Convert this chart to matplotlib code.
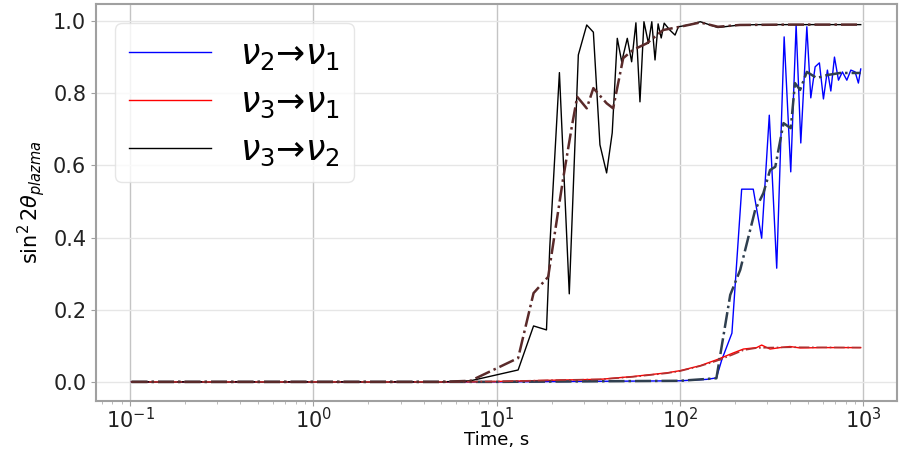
import numpy as np
import matplotlib.pyplot as plt

# nu3 -> nu2 (raw and smoothed)
t32 = [0.102, 1, 5, 7.2, 13.1, 15.9, 18.7, 19.5, 22, 24.9, 27.9, 31, 33.7, 36.6, 39.8,
       42.7, 45.5, 48.1, 51.6, 54.5, 57.5, 60.5, 63.6, 67.3, 70.2, 73.1, 76, 79, 82,
       88, 94, 98, 114, 129, 161, 212, 272, 400, 600, 968]
y32 = [0, 0, 0, 0.003, 0.033, 0.155, 0.144, 0.375, 0.857, 0.244, 0.906, 0.989, 0.969,
       0.657, 0.579, 0.69, 0.952, 0.887, 0.952, 0.887, 0.995, 0.776, 0.998, 0.938,
       0.998, 0.892, 0.992, 0.953, 0.994, 0.975, 0.961, 0.984, 0.99, 0.998, 0.982,
       0.989, 0.99, 0.99, 0.99, 0.99]
t32s = [0.102, 1, 5, 7.2, 13.1, 15.9, 19.1, 23, 25.7, 27.5, 31, 33.7, 39.8, 43.2, 49,
        55.5, 65.9, 80.9, 100, 129, 161, 212, 400, 968]
y32s = [0, 0, 0, 0.003, 0.066, 0.246, 0.291, 0.56, 0.707, 0.79, 0.758, 0.814, 0.772,
        0.758, 0.897, 0.92, 0.938, 0.975, 0.984, 0.996, 0.984, 0.989, 0.99, 0.99]

# nu2 -> nu1
t21 = [0.102, 10, 50, 100, 140, 158, 169, 192, 217, 251, 279, 307, 337, 370, 402, 430,
       456, 492, 517, 546, 576, 606, 637, 665, 696, 732, 769, 813, 855, 902, 940, 968]
y21 = [0, 0, 0.002, 0.003, 0.007, 0.011, 0.061, 0.135, 0.534, 0.534, 0.398, 0.739,
       0.315, 0.956, 0.582, 0.989, 0.662, 0.984, 0.787, 0.873, 0.884, 0.784, 0.864,
       0.806, 0.9, 0.836, 0.859, 0.836, 0.864, 0.859, 0.828, 0.867]
t21s = [0.102, 10, 100, 158, 188, 213, 257, 285, 310, 331, 367, 402, 424, 452, 492,
        557, 632, 747, 968]
y21s = [0, 0, 0.003, 0.01, 0.241, 0.31, 0.476, 0.523, 0.587, 0.596, 0.717, 0.703,
        0.828, 0.809, 0.859, 0.842, 0.85, 0.856, 0.856]

# nu3 -> nu1
t31 = [0.102, 5, 10, 22, 36.6, 55.5, 84.7, 100, 129, 158, 195, 222, 262, 279, 310,
       352, 398, 452, 600, 968]
y31 = [0, 0, 0.001, 0.005, 0.007, 0.015, 0.025, 0.031, 0.045, 0.061, 0.08, 0.091,
       0.095, 0.102, 0.091, 0.095, 0.098, 0.094, 0.095, 0.095]
t31s = [0.102, 5, 10, 22, 36.6, 55.5, 84.7, 100, 129, 158, 195, 222, 262, 310, 400, 968]
y31s = [0, 0, 0.001, 0.005, 0.007, 0.014, 0.024, 0.03, 0.044, 0.058, 0.076, 0.088,
        0.094, 0.095, 0.096, 0.095]

labels = [r'$\nu_2$→$\nu_1$', r'$\nu_3$→$\nu_1$', r'$\nu_3$→$\nu_2$']

fig = plt.figure(figsize=(8.99, 4.49), dpi=100)
ax = fig.add_axes([0.1068, 0.1069, 0.891, 0.8841])

ax.plot(t21, y21, color='blue', lw=1.0, label=labels[0])
ax.plot(t31, y31, color='red', lw=1.0, label=labels[1])
ax.plot(t32, y32, color='black', lw=1.0, label=labels[2])
ax.plot(t21s, y21s, color='#2f3f4f', lw=1.8, ls='-.')
ax.plot(t31s, y31s, color='#b03030', lw=1.2, ls='-.')
ax.plot(t32s, y32s, color='#5a2a2a', lw=1.8, ls='-.')

ax.set_xscale('log')
ax.set_xlim(0.0653, 1527)
ax.set_ylim(-0.053, 1.047)

ax.grid(True, which='major', axis='x', color='#c4c4c4', lw=1.0)
ax.grid(True, which='major', axis='y', color='#e6e6e6', lw=1.0)

for s in ax.spines.values():
    s.set_color('#a0a0a0')
    s.set_linewidth(1.5)
ax.tick_params(labelsize=15, color='#a0a0a0', labelcolor='#222222')
ax.tick_params(axis='x', pad=1)
ax.tick_params(which='minor', color='#b0b0b0')

ax.set_xlabel('Time, s', fontsize=13, labelpad=-1)
ax.set_ylabel(r'$\sin^2 2\theta_{plazma}$', fontsize=15, labelpad=4)

ax.legend(loc='upper left', fontsize=25, handlelength=2.35, handletextpad=0.85,
          labelspacing=0.38, borderpad=0.4, borderaxespad=0.55, edgecolor='#e0e0e0')

fig.savefig('out.png', dpi=100)
